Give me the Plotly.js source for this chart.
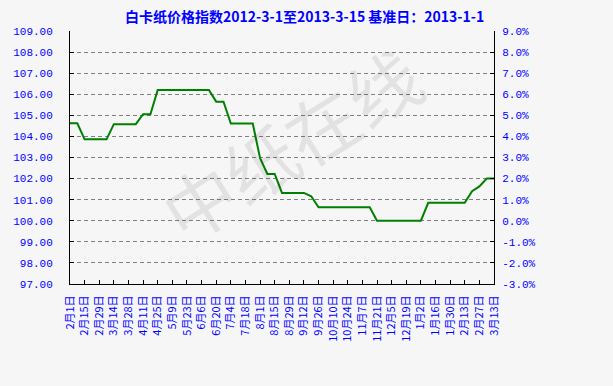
<!DOCTYPE html>
<html>
<head>
<meta charset="utf-8">
<script src="https://cdn.plot.ly/plotly-3.0.1.min.js"></script>
<style>html,body{margin:0;padding:0;background:#fff;}#chart{width:613px;height:386px;}</style>
</head>
<body>
<div id="chart"></div>
<script>
// Weekly dates (every Wednesday), 2012-02-01 .. 2013-03-13
const weeks = [
  "2月1日","2月8日","2月15日","2月22日","2月29日",
  "3月7日","3月14日","3月21日","3月28日",
  "4月4日","4月11日","4月18日","4月25日",
  "5月2日","5月9日","5月16日","5月23日","5月30日",
  "6月6日","6月13日","6月20日","6月27日",
  "7月4日","7月11日","7月18日","7月25日",
  "8月1日","8月8日","8月15日","8月22日","8月29日",
  "9月5日","9月12日","9月19日","9月26日",
  "10月3日","10月10日","10月17日","10月24日","10月31日",
  "11月7日","11月14日","11月21日","11月28日",
  "12月5日","12月12日","12月19日","12月26日",
  "1月2日","1月9日","1月16日","1月23日","1月30日",
  "2月6日","2月13日","2月20日","2月27日",
  "3月6日","3月13日"
];
// White board price index values
const indexValues = [
  104.62,104.62,103.86,103.86,103.86,103.86,104.58,104.58,104.58,104.58,
  105.05,105.05,106.20,106.20,106.20,106.20,106.20,106.20,106.20,106.20,
  105.65,105.65,104.61,104.61,104.61,104.61,102.97,102.22,102.22,101.32,
  101.32,101.32,101.32,101.16,100.64,100.64,100.64,100.64,100.64,100.64,
  100.64,100.64,100.00,100.00,100.00,100.00,100.00,100.00,100.00,100.85,
  100.85,100.85,100.85,100.85,100.85,101.40,101.63,102.00,102.00
];
// Tick labels shown on x axis (every second week)
const xTickLabels = [
  "2月1日","2月15日","2月29日","3月14日","3月28日","4月11日","4月25日","5月9日",
  "5月23日","6月6日","6月20日","7月4日","7月18日","8月1日","8月15日","8月29日",
  "9月12日","9月26日","10月10日","10月24日","11月7日","11月21日","12月5日","12月19日",
  "1月2日","1月16日","1月30日","2月13日","2月27日","3月13日"
];
const leftTickVals = [97,98,99,100,101,102,103,104,105,106,107,108,109];
const leftTickText = ["97.00","98.00","99.00","100.00","101.00","102.00","103.00","104.00","105.00","106.00","107.00","108.00","109.00"];
const rightTickVals = [-3,-2,-1,0,1,2,3,4,5,6,7,8,9];
const rightTickText = ["-3.0%","-2.0%","-1.0%","0.0%","1.0%","2.0%","3.0%","4.0%","5.0%","6.0%","7.0%","8.0%","9.0%"];
const titleText = "白卡纸价格指数2012-3-1至2013-3-15 基准日：2013-1-1";
const watermark = "中纸在线";

const blue = "#0000ff";
const numFont = {family: "Liberation Mono, DejaVu Sans Mono, monospace", size: 11, color: blue};

const traces = [
  {
    x: weeks, y: indexValues, type: "scatter", mode: "lines",
    line: {color: "#008000", width: 2},
    hoverinfo: "skip", showlegend: false
  },
  {
    x: [], y: [], yaxis: "y2", type: "scatter", mode: "lines",
    hoverinfo: "skip", showlegend: false
  }
];

const layout = {
  width: 613, height: 386,
  margin: {l: 70, r: 119, t: 31, b: 102, pad: 0},
  paper_bgcolor: "#f6f6f6",
  plot_bgcolor: "rgba(0,0,0,0)",
  showlegend: false,
  title: {
    text: titleText,
    font: {family: "Noto Sans CJK SC, sans-serif", size: 14, color: blue, weight: "bold"},
    x: 0.497, xanchor: "center", y: 0.955, yanchor: "middle"
  },
  xaxis: {
    type: "category",
    categoryorder: "array", categoryarray: weeks,
    range: [0, 58],
    tickmode: "array", tickvals: xTickLabels, ticktext: xTickLabels,
    tickangle: -90,
    tickfont: {family: "Noto Sans CJK SC, sans-serif", size: 11, color: blue},
    ticks: "inside", ticklen: 4, tickcolor: "#000", tickwidth: 1,
    ticklabelstandoff: 6,
    showline: true, linecolor: "#000", linewidth: 1,
    showgrid: false, zeroline: false, fixedrange: true
  },
  yaxis: {
    range: [97, 109],
    tickmode: "array", tickvals: leftTickVals, ticktext: leftTickText,
    tickfont: numFont,
    ticks: "inside", ticklen: 4, tickcolor: "#000", tickwidth: 1,
    ticklabelstandoff: 14,
    showline: true, linecolor: "#000", linewidth: 1,
    showgrid: true, gridcolor: "#808080", gridwidth: 1, griddash: "4px,3px",
    zeroline: false, fixedrange: true
  },
  yaxis2: {
    overlaying: "y", side: "right",
    range: [-3, 9],
    tickmode: "array", tickvals: rightTickVals, ticktext: rightTickText,
    tickfont: numFont,
    ticks: "inside", ticklen: 4, tickcolor: "#000", tickwidth: 1,
    ticklabelstandoff: 5,
    showline: true, linecolor: "#000", linewidth: 1,
    showgrid: false, zeroline: false, fixedrange: true
  },
  annotations: [
    {
      text: watermark, xref: "paper", yref: "paper", x: 0.52, y: 0.56,
      showarrow: false, textangle: -32,
      font: {family: "Noto Sans CJK SC, sans-serif", size: 72, color: "rgba(0,0,0,0.08)"}
    }
  ]
};

Plotly.newPlot("chart", traces, layout, {staticPlot: true, displayModeBar: false});
</script>
</body>
</html>
